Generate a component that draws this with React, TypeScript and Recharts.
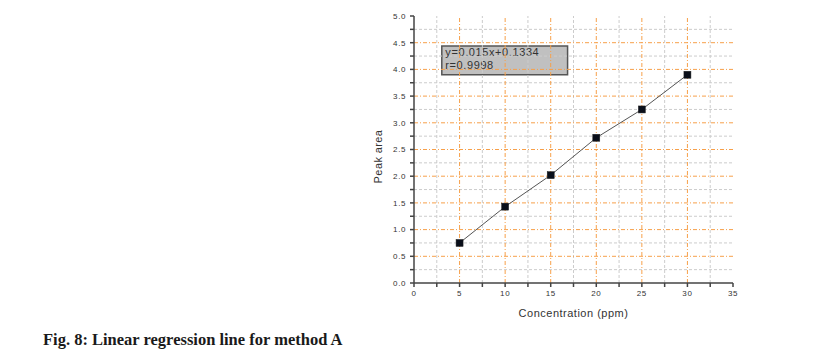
import React from 'react';
import { ComposedChart, Line, XAxis, YAxis, ReferenceLine, ReferenceArea } from 'recharts';

const CONC = [5, 10, 15, 20, 25, 30];
const AREA = [0.75, 1.43, 2.02, 2.72, 3.25, 3.9];
const X_MAJOR = [0, 5, 10, 15, 20, 25, 30, 35];
const X_ALL = [0, 2.5, 5, 7.5, 10, 12.5, 15, 17.5, 20, 22.5, 25, 27.5, 30, 32.5, 35];
const X_GRID_MAJOR = [5, 10, 15, 20, 25, 30];
const X_GRID_MINOR = [2.5, 7.5, 12.5, 17.5, 22.5, 27.5, 32.5];
const Y_MAJOR = [0, 0.5, 1, 1.5, 2, 2.5, 3, 3.5, 4, 4.5, 5];
const Y_ALL = [0, 0.25, 0.5, 0.75, 1, 1.25, 1.5, 1.75, 2, 2.25, 2.5, 2.75, 3, 3.25, 3.5, 3.75, 4, 4.25, 4.5, 4.75, 5];
const Y_GRID_MAJOR = [0.5, 1, 1.5, 2, 2.5, 3, 3.5, 4, 4.5];
const Y_GRID_MINOR = [0.25, 0.75, 1.25, 1.75, 2.25, 2.75, 3.25, 3.75, 4.25, 4.75];
const EQUATION = 'y=0.015x+0.1334';
const R_TEXT = 'r=0.9998';
const BOX = { x1: 3.05, x2: 16.85, y1: 3.9, y2: 4.44 };

const DATA = CONC.map((c, i) => ({ conc: c, area: AREA[i] }));

const FONT = '"Liberation Sans", Arial, sans-serif';
const AXIS = '#444';
const ORANGE = '#f7a04a';
const GRAY = '#cccccc';

const XTick = (p: any) => {
  const v = p.payload.value;
  if (!X_MAJOR.includes(v)) return <g />;
  return (
    <text x={p.x} y={p.y} dy="0.71em" textAnchor="middle" fontFamily={FONT} fontSize={8} fill="#333" letterSpacing={0.6}>
      {v}
    </text>
  );
};

const YTick = (p: any) => {
  const v = p.payload.value;
  if (!Y_MAJOR.includes(v)) return <g />;
  return (
    <text x={p.x} y={p.y} dy="0.355em" textAnchor="end" fontFamily={FONT} fontSize={8} fill="#333" letterSpacing={0.6}>
      {v.toFixed(1)}
    </text>
  );
};

const Empty = () => <g />;

const Square = (p: any) => {
  if (p.cx == null || p.cy == null) return <g />;
  return <rect x={p.cx - 3.5} y={p.cy - 3.5} width={7} height={7} fill="#0a0f1a" stroke="#222" strokeWidth={0.5} />;
};

const YLabel = (p: any) => {
  const vb = p.viewBox || {};
  const x = vb.x + 3.5;
  const y = vb.y + vb.height / 2 + 7;
  return (
    <text x={x} y={y} transform={`rotate(-90 ${x} ${y})`} textAnchor="middle" dominantBaseline="central" fontFamily={FONT} fontSize={11} fill="#333" letterSpacing={0.4}>
      Peak area
    </text>
  );
};

const XLabel = (p: any) => {
  const vb = p.viewBox || {};
  const x = vb.x + vb.width / 2;
  return (
    <text x={x} y={313} textAnchor="middle" dominantBaseline="central" fontFamily={FONT} fontSize={11} fill="#333" letterSpacing={0.5}>
      Concentration (ppm)
    </text>
  );
};

const BoxLabel = (p: any) => {
  const vb = p.viewBox || {};
  return (
    <g>
      <text x={vb.x + 3.5} y={vb.y + 10} fontFamily={FONT} fontSize={11} fill="#333" letterSpacing={0.6}>{EQUATION}</text>
      <text x={vb.x + 3.5} y={vb.y + 23} fontFamily={FONT} fontSize={11} fill="#333" letterSpacing={0.6}>{R_TEXT}</text>
    </g>
  );
};

export default function App() {
  return (
    <div style={{ position: 'absolute', left: 0, top: 0, width: 824, height: 353, background: '#fff' }}>
      <ComposedChart
        width={824}
        height={330}
        data={DATA}
        margin={{ top: 16, right: 91, left: 374, bottom: 12 }}
      >
        <XAxis
          xAxisId="top"
          orientation="top"
          type="number"
          domain={[0, 35]}
          ticks={X_ALL}
          height={0}
          mirror
          tickSize={3}
          tick={Empty}
          stroke={AXIS}
          strokeWidth={1.5}
        />
        <XAxis
          dataKey="conc"
          type="number"
          domain={[0, 35]}
          ticks={X_ALL}
          interval={0}
          height={35}
          tickSize={4}
          tickMargin={3}
          tick={XTick}
          stroke={AXIS}
          strokeWidth={1.5}
          label={{ content: XLabel }}
        />
        <YAxis
          type="number"
          domain={[0, 5]}
          ticks={Y_ALL}
          interval={0}
          width={40}
          tickSize={4}
          tickMargin={4}
          tick={YTick}
          stroke={AXIS}
          strokeWidth={1.5}
          label={{ content: YLabel }}
        />
        <YAxis
          yAxisId="right"
          orientation="right"
          type="number"
          domain={[0, 5]}
          ticks={Y_ALL}
          interval={0}
          width={0}
          mirror
          tickSize={3}
          tick={Empty}
          stroke={AXIS}
          strokeWidth={1.5}
        />
        {X_GRID_MINOR.map((v) => (
          <ReferenceLine key={'xm' + v} x={v} stroke={GRAY} strokeDasharray="3 2" strokeWidth={1} />
        ))}
        {Y_GRID_MINOR.map((v) => (
          <ReferenceLine key={'ym' + v} y={v} stroke={GRAY} strokeDasharray="3 2" strokeWidth={1} />
        ))}
        {X_GRID_MAJOR.map((v) => (
          <ReferenceLine key={'xM' + v} x={v} stroke={ORANGE} strokeDasharray="4 2 1 2" strokeWidth={1} />
        ))}
        {Y_GRID_MAJOR.map((v) => (
          <ReferenceLine key={'yM' + v} y={v} stroke={ORANGE} strokeDasharray="4 2 1 2" strokeWidth={1} />
        ))}
        <ReferenceArea
          x1={BOX.x1}
          x2={BOX.x2}
          y1={BOX.y1}
          y2={BOX.y2}
          fill="#c0c0c0"
          fillOpacity={1}
          stroke="#555"
          strokeWidth={1.5}
          label={{ content: BoxLabel }}
        />
        <Line
          dataKey="area"
          type="linear"
          stroke="#555"
          strokeWidth={1}
          dot={Square}
          activeDot={false}
          isAnimationActive={false}
        />
      </ComposedChart>
      <div
        style={{
          position: 'absolute',
          left: 43,
          top: 330,
          fontFamily: '"Liberation Serif", "Times New Roman", serif',
          fontWeight: 'bold',
          fontSize: 16.5,
          color: '#1a1a1a',
          whiteSpace: 'nowrap',
        }}
      >
        Fig. 8: Linear regression line for method A
      </div>
    </div>
  );
}
